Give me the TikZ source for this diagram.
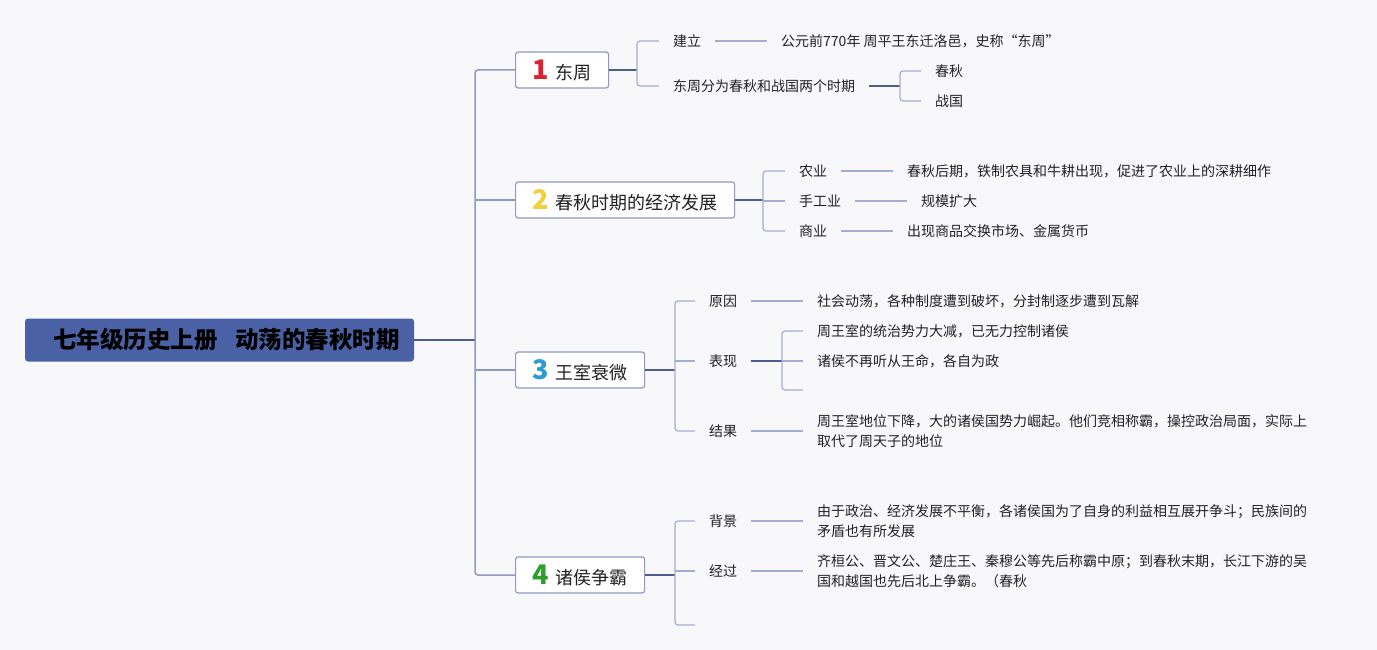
\documentclass[tikz,border=0pt]{standalone}
\usepackage{fontspec}
\setmainfont{Noto Sans CJK SC}
\usepackage{xcolor}
\usetikzlibrary{positioning}
\definecolor{rootblue}{HTML}{4A62A5}
\definecolor{boxline}{HTML}{8E99C4}
\definecolor{twigcol}{HTML}{A3ADD0}
\definecolor{trunkcol}{HTML}{8D99C2}
\definecolor{stemcol}{HTML}{4E5D8E}
\definecolor{bggray}{HTML}{F8F8FB}
\definecolor{txt}{HTML}{222222}
\definecolor{numred}{HTML}{D9232E}
\definecolor{numyellow}{HTML}{F2CF3C}
\definecolor{numblue}{HTML}{2D9AD6}
\definecolor{numgreen}{HTML}{2E9E2E}
\tikzset{
  rootbox/.style={fill=rootblue, rounded corners=3pt, minimum width=389pt, minimum height=43pt, inner xsep=0pt, text=black, font=\fontsize{23.5}{26}\selectfont\bfseries},
  topicbox/.style={draw=boxline, line width=1.2pt, fill=white, rounded corners=2.5pt, minimum height=36pt, anchor=west, text=txt, font=\fontsize{18}{20}\selectfont},
  item/.style={anchor=west, inner xsep=14pt, inner ysep=0pt, text=txt, align=left, font=\fontsize{14}{20}\selectfont},
  twig/.style={draw=twigcol, line width=1.2pt, rounded corners=3pt},
  stem/.style={draw=stemcol, line width=1.6pt},
  trunk/.style={draw=trunkcol, line width=1.5pt, rounded corners=3pt}
}
\newcommand{\topicnum}[2]{\textcolor{#1}{\fontsize{27}{27}\selectfont\bfseries #2}\hspace{6pt}}
\begin{document}
\begin{tikzpicture}[x=1pt, y=-1pt]
    \fill[bggray] (0,0) rectangle (1377,650);
    \useasboundingbox (0,0) rectangle (1377,650);
    % root and trunk
    \node[rootbox] (root) at (219.5,340) {\hspace*{14pt}七年级历史上册\hspace{18pt}动荡的春秋时期};
    \coordinate (t) at (475,340);
    \node[topicbox, minimum width=93pt] (dongzhou) at (515,70) {\topicnum{numred}{1}东周};
    \node[topicbox, minimum width=219pt] (jingji) at (515,200) {\topicnum{numyellow}{2}春秋时期的经济发展};
    \node[topicbox, minimum width=129pt] (shuaiwei) at (515,370) {\topicnum{numblue}{3}王室衰微};
    \node[topicbox, minimum width=129pt] (zhengba) at (515,575) {\topicnum{numgreen}{4}诸侯争霸};
    \draw[stem] (root.east) -- (t);
    \draw[trunk] (dongzhou.west) -| (t) |- (zhengba.west);
    \draw[trunk] (jingji.west) -- (jingji.west -| t);
    \draw[trunk] (shuaiwei.west) -- (shuaiwei.west -| t);

    % 1 dongzhou
    \coordinate (k1) at (637,70);
    \node[item] (jianli) at (659,41) {建立};
    \node[item] (fenqi) at (659,86) {东周分为春秋和战国两个时期};
    \node[item] (jianliA) at (767,41) {公元前770年 周平王东迁洛邑，史称“东周”};
    \coordinate (k1b) at (900,86);
    \node[item] (chunqiu) at (921,71) {春秋};
    \node[item] (zhanguo) at (921,101) {战国};
    \draw[stem] (dongzhou.east) -- (k1);
    \draw[twig] (jianli.west) -| (k1) |- (fenqi.west);
    \draw[twig] (jianli) -- (jianliA);
    \draw[stem] (fenqi.east) -- (k1b);
    \draw[twig] (chunqiu.west) -| (k1b) |- (zhanguo.west);

    % 2 jingji
    \coordinate (k2) at (763,200);
    \node[item] (nongye) at (785,171) {农业};
    \node[item] (shougong) at (785,201) {手工业};
    \node[item] (shangye) at (785,231) {商业};
    \node[item] (nongyeA) at (893,171) {春秋后期，铁制农具和牛耕出现，促进了农业上的深耕细作};
    \node[item] (shougongA) at (907,201) {规模扩大};
    \node[item] (shangyeA) at (893,231) {出现商品交换市场、金属货币};
    \draw[stem] (jingji.east) -- (k2);
    \draw[twig] (nongye.west) -| (k2) |- (shangye.west);
    \draw[twig] (shougong.west) -- (shougong.west -| k2);
    \draw[twig] (nongye) -- (nongyeA);
    \draw[twig] (shougong) -- (shougongA);
    \draw[twig] (shangye) -- (shangyeA);

    % 3 shuaiwei
    \coordinate (k3) at (675,370);
    \node[item] (yuanyin) at (695,301) {原因};
    \node[item] (biaoxian) at (695,361) {表现};
    \node[item] (jieguo) at (695,431) {结果};
    \node[item] (yuanyinA) at (803,301) {社会动荡，各种制度遭到破坏，分封制逐步遭到瓦解};
    \coordinate (k3b) at (782,361);
    \node[item] (biaoxianA) at (803,331) {周王室的统治势力大减，已无力控制诸侯};
    \node[item] (biaoxianB) at (803,361) {诸侯不再听从王命，各自为政};
    \coordinate (biaoxianC) at (803,390);
    \node[item] (jieguoA) at (803,431) {周王室地位下降，大的诸侯国势力崛起。他们竞相称霸，操控政治局面，实际上\\取代了周天子的地位};
    \draw[stem] (shuaiwei.east) -- (k3);
    \draw[twig] (yuanyin.west) -| (k3) |- (jieguo.west);
    \draw[twig] (biaoxian.west) -- (biaoxian.west -| k3);
    \draw[twig] (yuanyin) -- (yuanyinA);
    \draw[twig] (jieguo.east) -- (jieguo.east -| jieguoA.west);
    \draw[stem] (biaoxian.east) -- (k3b);
    \draw[twig] (biaoxianA.west) -| (k3b) |- (biaoxianC);
    \draw[twig] (biaoxianB.west) -- (k3b);

    % 4 zhengba
    \coordinate (k4) at (675,575);
    \node[item] (beijing) at (695,521) {背景};
    \node[item] (jingguo) at (695,571) {经过};
    \coordinate (k4c) at (695,625);
    \node[item] (beijingA) at (803,521) {由于政治、经济发展不平衡，各诸侯国为了自身的利益相互展开争斗；民族间的\\矛盾也有所发展};
    \node[item] (jingguoA) at (803,571) {齐桓公、晋文公、楚庄王、秦穆公等先后称霸中原；到春秋末期，长江下游的吴\\国和越国也先后北上争霸。（春秋};
    \draw[stem] (zhengba.east) -- (k4);
    \draw[twig] (beijing.west) -| (k4) |- (k4c);
    \draw[twig] (jingguo.west) -- (jingguo.west -| k4);
    \draw[twig] (beijing.east) -- (beijing.east -| beijingA.west);
    \draw[twig] (jingguo.east) -- (jingguo.east -| jingguoA.west);
\end{tikzpicture}
\end{document}
